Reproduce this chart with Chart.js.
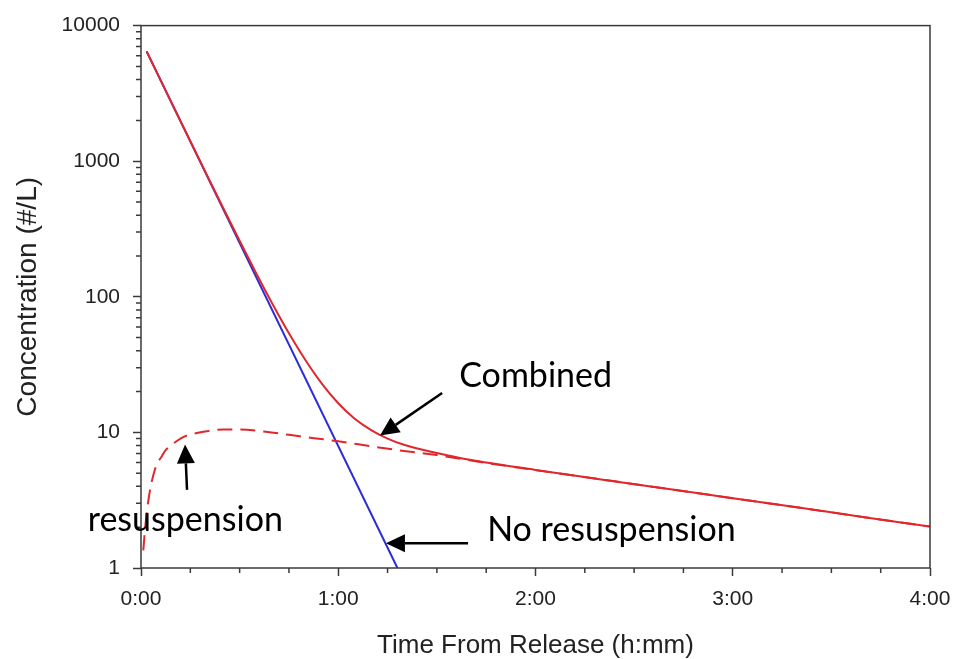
<!DOCTYPE html>
<html>
<head>
<meta charset="utf-8">
<script src="https://cdn.jsdelivr.net/npm/chart.js@4.4.1/dist/chart.umd.min.js"></script>
<style>
  html, body { margin: 0; padding: 0; background: #fff; }
</style>
</head>
<body>
<canvas id="chart" width="960" height="659"></canvas>
<script>
// --- Data: time from release (minutes), concentration (#/L) ---
const combinedTimes  = [1.7, 5, 10, 15, 20, 25, 30, 35, 40, 45, 50, 55, 60, 65, 70, 75, 80, 90, 100, 120, 140, 160, 180, 200, 220, 240];
const combinedValues = [6460, 4420, 2490, 1406, 795, 452, 259, 150, 88.5, 53.8, 34.2, 22.9, 16.4, 12.6, 10.4, 9.0, 8.1, 7.05, 6.28, 5.29, 4.5, 3.84, 3.27, 2.79, 2.37, 2.02];

const resuspTimes  = [0.7, 1.2, 1.7, 2.7, 3.8, 4.8, 6.3, 7.5, 9.4, 12, 14, 17, 20, 25, 30, 38, 45, 52, 60, 70, 80, 90, 105, 120, 140, 160, 180, 200, 220, 240];
const resuspValues = [1.35, 1.9, 2.5, 3.7, 4.9, 5.8, 6.65, 7.4, 8.1, 9.0, 9.5, 9.9, 10.2, 10.5, 10.5, 10.1, 9.6, 9.1, 8.6, 7.9, 7.3, 6.8, 5.95, 5.27, 4.5, 3.84, 3.27, 2.79, 2.37, 2.02];

const noResuspTimes  = [1.7, 78];
const noResuspValues = [6460, 1];

// --- Axis ticks ---
const xMajorTicks = [0, 60, 120, 180, 240];
const xTickLabels = ['0:00', '1:00', '2:00', '3:00', '4:00'];
const xMinorStep = 15;
const yDecades = [1, 10, 100, 1000, 10000];
const yTickLabels = ['1', '10', '100', '1000', '10000'];

// --- Annotations (anchored in data units) ---
const notes = [
  { text: 'Combined',        t: 96.8,  c: 21.5, from: [91.6, 19.5], to: [72.7, 9.47] },
  { text: 'resuspension',    t: -16.2, c: 1.89, from: [14.0, 3.77], to: [13.4, 8.15] },
  { text: 'No resuspension', t: 105.3, c: 1.57, from: [99.5, 1.52], to: [74.5, 1.52] }
];

const RED = '#e1262c';
const BLUE = '#2b2bd8';
const AXIS = '#3a3a3a';

function toPoints(xs, ys) {
  return xs.map((x, i) => ({ x: x, y: ys[i] }));
}

const xTickValues = [];
for (let v = xMajorTicks[0]; v <= xMajorTicks[xMajorTicks.length - 1]; v += xMinorStep) xTickValues.push(v);
const yTickValues = [];
yDecades.forEach((d, i) => {
  if (i === yDecades.length - 1) { yTickValues.push(d); return; }
  for (let k = 1; k <= 9; k++) yTickValues.push(d * k);
});

const isXMajor = v => xMajorTicks.includes(v);
const isYMajor = v => yDecades.includes(v);

// frame, minor ticks and the arrow notes
const decorPlugin = {
  id: 'decor',
  afterDraw(chart) {
    const { ctx, chartArea: a } = chart;
    const xs = chart.scales.x, ys = chart.scales.y;
    ctx.save();
    ctx.strokeStyle = AXIS;
    ctx.lineWidth = 1.5;
    ctx.strokeRect(a.left, a.top, a.right - a.left, a.bottom - a.top);

    // minor ticks
    ctx.beginPath();
    xTickValues.filter(v => !isXMajor(v)).forEach(v => {
      const px = xs.getPixelForValue(v);
      ctx.moveTo(px, a.bottom);
      ctx.lineTo(px, a.bottom + 5);
    });
    yTickValues.filter(v => !isYMajor(v)).forEach(v => {
      const py = ys.getPixelForValue(v);
      ctx.moveTo(a.left, py);
      ctx.lineTo(a.left - 5, py);
    });
    ctx.stroke();

    // notes
    ctx.fillStyle = '#000';
    ctx.strokeStyle = '#000';
    ctx.font = '34px Lato, "Open Sans", sans-serif';
    ctx.textBaseline = 'alphabetic';
    ctx.textAlign = 'left';
    notes.forEach(n => {
      ctx.fillText(n.text, xs.getPixelForValue(n.t), ys.getPixelForValue(n.c));
      const x0 = xs.getPixelForValue(n.from[0]), y0 = ys.getPixelForValue(n.from[1]);
      const x1 = xs.getPixelForValue(n.to[0]), y1 = ys.getPixelForValue(n.to[1]);
      const ang = Math.atan2(y1 - y0, x1 - x0);
      const headLen = 19, headHalf = 9;
      const bx = x1 - headLen * Math.cos(ang), by = y1 - headLen * Math.sin(ang);
      ctx.lineWidth = 2.5;
      ctx.beginPath();
      ctx.moveTo(x0, y0);
      ctx.lineTo(bx, by);
      ctx.stroke();
      ctx.beginPath();
      ctx.moveTo(x1, y1);
      ctx.lineTo(bx + headHalf * Math.sin(ang), by - headHalf * Math.cos(ang));
      ctx.lineTo(bx - headHalf * Math.sin(ang), by + headHalf * Math.cos(ang));
      ctx.closePath();
      ctx.fill();
    });
    ctx.restore();
  }
};

Chart.defaults.font.family = '"Liberation Sans", Arial, sans-serif';
Chart.defaults.color = '#222';

new Chart(document.getElementById('chart'), {
  type: 'line',
  data: {
    datasets: [
      {
        label: 'Combined',
        data: toPoints(combinedTimes, combinedValues),
        borderColor: RED,
        borderWidth: 2,
        pointRadius: 0,
        cubicInterpolationMode: 'monotone',
        fill: false
      },
      {
        label: 'Resuspension',
        data: toPoints(resuspTimes, resuspValues),
        borderColor: RED,
        borderWidth: 2,
        borderDash: [15, 8],
        pointRadius: 0,
        cubicInterpolationMode: 'monotone',
        fill: false
      },
      {
        label: 'No resuspension',
        data: toPoints(noResuspTimes, noResuspValues),
        borderColor: BLUE,
        borderWidth: 2,
        pointRadius: 0,
        fill: false
      }
    ]
  },
  options: {
    responsive: false,
    animation: false,
    layout: { padding: { top: 19, right: 30, left: 0, bottom: 0 } },
    plugins: { legend: { display: false }, tooltip: { enabled: false } },
    scales: {
      x: {
        type: 'linear',
        min: 0, max: 240,
        afterBuildTicks: s => { s.ticks = xTickValues.map(v => ({ value: v })); },
        afterFit: s => { s.height = 91; s.paddingLeft = 0; s.paddingRight = 0; },
        ticks: {
          autoSkip: false, maxRotation: 0, padding: 11,
          font: { size: 21 },
          callback: v => isXMajor(v) ? xTickLabels[xMajorTicks.indexOf(v)] : ''
        },
        grid: {
          drawOnChartArea: false, drawTicks: true, tickLength: 8, tickWidth: 1.5,
          tickColor: c => (c.tick && isXMajor(c.tick.value)) ? AXIS : 'rgba(0,0,0,0)'
        },
        border: { display: false },
        title: {
          display: true, text: 'Time From Release (h:mm)',
          font: { size: 26, lineHeight: 1.0 }, padding: { top: 0, bottom: 0 }
        }
      },
      y: {
        type: 'logarithmic',
        min: 1, max: 10000,
        afterBuildTicks: s => { s.ticks = yTickValues.map(v => ({ value: v })); },
        afterFit: s => { s.width = 141; },
        ticks: {
          autoSkip: false, padding: 13,
          font: { size: 21 },
          callback: v => isYMajor(v) ? yTickLabels[yDecades.indexOf(v)] : ''
        },
        grid: {
          drawOnChartArea: false, drawTicks: true, tickLength: 8, tickWidth: 1.5,
          tickColor: c => (c.tick && isYMajor(c.tick.value)) ? AXIS : 'rgba(0,0,0,0)'
        },
        border: { display: false },
        title: {
          display: true, text: 'Concentration (#/L)',
          font: { size: 28 }, padding: { top: 11, bottom: 0 }
        }
      }
    }
  },
  plugins: [decorPlugin]
});
</script>
</body>
</html>
